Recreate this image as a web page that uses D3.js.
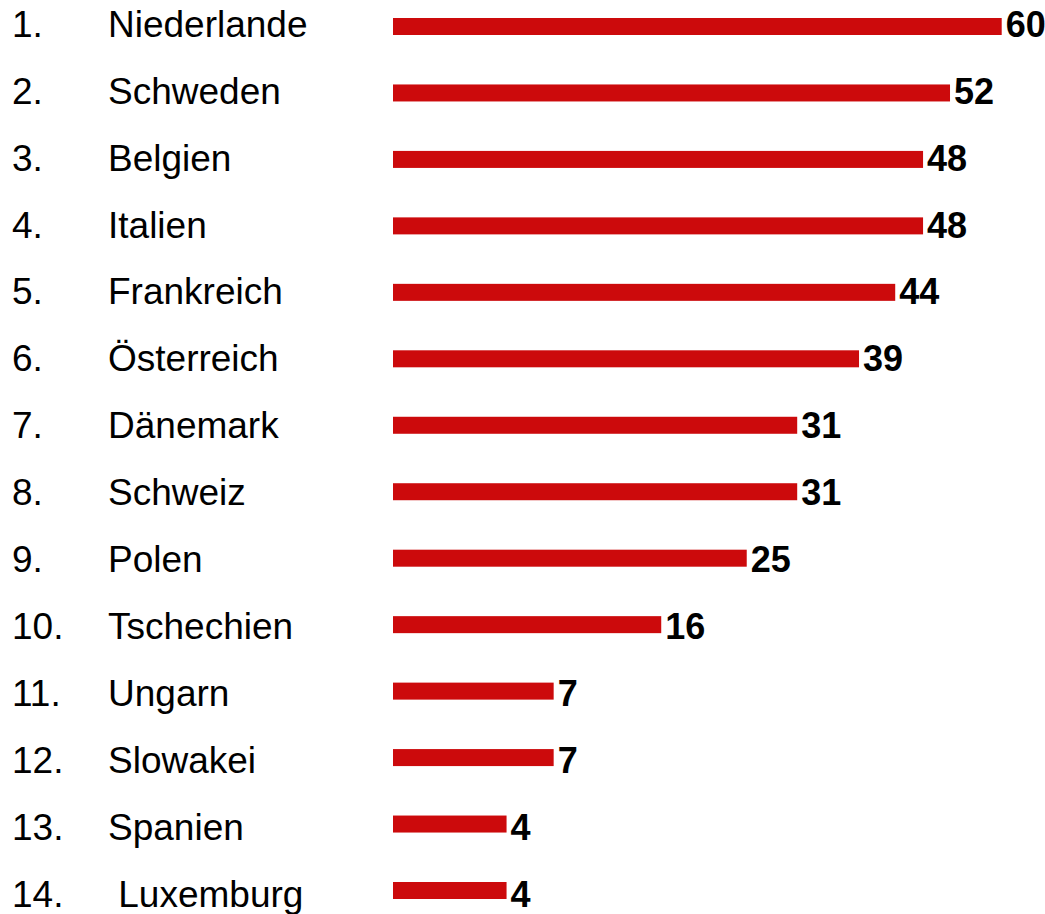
<!DOCTYPE html>
<html>
<head>
<meta charset="utf-8">
<script src="https://cdn.jsdelivr.net/npm/d3@7"></script>
<style>
  body { margin: 0; background: #fff; }
  text { font-family: "Liberation Sans", Arial, sans-serif; }
</style>
</head>
<body>
<div class="chart"></div>
<script>
// DATA
const RANKS = ["1.", "2.", "3.", "4.", "5.", "6.", "7.", "8.", "9.", "10.", "11.", "12.", "13.", "14."];
const COUNTRIES = ["Niederlande", "Schweden", "Belgien", "Italien", "Frankreich", "Österreich",
  "Dänemark", "Schweiz", "Polen", "Tschechien", "Ungarn", "Slowakei", "Spanien", " Luxemburg"];
const VALUES = [60, 52, 48, 48, 44, 39, 31, 31, 25, 16, 7, 7, 4, 4];

// GLOBAL CONSTANTS
const FRAME_WIDTH = 1045;
const FRAME_HEIGHT = 914;
const BAR_LEFT = 393;
const BAR_HEIGHT = 17;

const FRAME = d3.select(".chart")
  .append("svg")
    .attr("width", FRAME_WIDTH)
    .attr("height", FRAME_HEIGHT);

// bars are not drawn to a linear scale in the original, a pow scale fits it
const X_SCALE = d3.scalePow()
  .exponent(0.62)
  .domain([0, 60])
  .range([0, 608.7]);

// bar top positions
const Y_BAR = d3.scalePoint()
  .domain(d3.range(VALUES.length))
  .range([18, 882]);

// text baselines
const Y_TEXT = d3.scalePoint()
  .domain(d3.range(VALUES.length))
  .range([36.7, 907]);

const idx = d3.range(VALUES.length);

// rank numbers
FRAME.selectAll(".rank")
  .data(idx)
  .enter()
  .append("text")
    .attr("class", "rank")
    .attr("x", 12)
    .attr("y", (i) => Y_TEXT(i))
    .attr("font-size", "37px")
    .attr("fill", "#000")
    .text((i) => RANKS[i]);

// country names
FRAME.selectAll(".country")
  .data(idx)
  .enter()
  .append("text")
    .attr("class", "country")
    .attr("x", 108)
    .attr("y", (i) => Y_TEXT(i))
    .attr("font-size", "37px")
    .attr("fill", "#000")
    .style("white-space", "pre")
    .text((i) => COUNTRIES[i]);

// bars
FRAME.selectAll(".bar")
  .data(idx)
  .enter()
  .append("rect")
    .attr("class", "bar")
    .attr("x", BAR_LEFT)
    .attr("y", (i) => Y_BAR(i))
    .attr("width", (i) => X_SCALE(VALUES[i]))
    .attr("height", BAR_HEIGHT)
    .style("fill", "#cc0a0c");

// value labels
FRAME.selectAll(".val")
  .data(idx)
  .enter()
  .append("text")
    .attr("class", "val")
    .attr("x", (i) => BAR_LEFT + X_SCALE(VALUES[i]) + 4)
    .attr("y", (i) => Y_TEXT(i))
    .attr("font-size", "36px")
    .attr("font-weight", "bold")
    .attr("fill", "#000")
    .text((i) => VALUES[i]);
</script>
</body>
</html>
